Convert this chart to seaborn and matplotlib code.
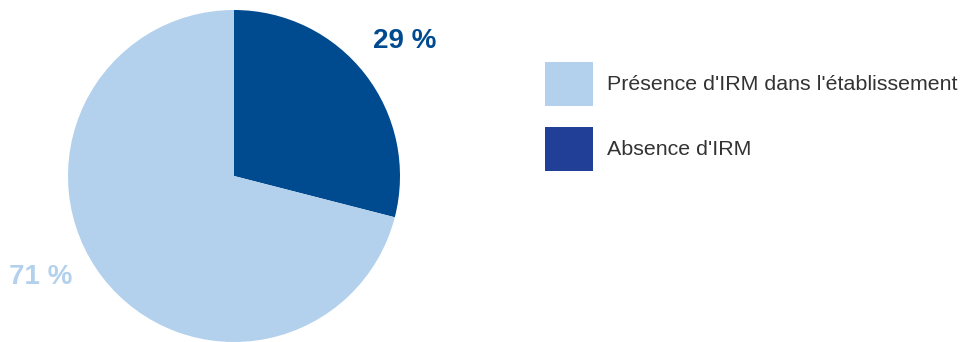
import matplotlib
matplotlib.use("Agg")
import matplotlib.pyplot as plt
from matplotlib.patches import Patch
import seaborn as sns

# Data
categories = ["Absence d'IRM", "Présence d'IRM dans l'établissement"]
shares = [29, 71]
pct_labels = ["29 %", "71 %"]

pie_colors = ["#004a90", "#b3d1ec"]
legend_colors = {"Présence d'IRM dans l'établissement": "#b3d1ec",
                 "Absence d'IRM": "#223f98"}

sns.set_theme(style="white")
plt.rcParams["font.family"] = ["Liberation Sans", "DejaVu Sans"]

W, H = 968, 342
fig = plt.figure(figsize=(W / 100, H / 100), dpi=100)
fig.patch.set_facecolor("white")

# Pie axes: centre (234, 176) px from top-left, radius 166 px
cx, cy, r = 234, 176, 166
ax = fig.add_axes([(cx - r) / W, (H - cy - r) / H, 2 * r / W, 2 * r / H])
ax.pie(shares, colors=pie_colors, startangle=90, counterclock=False,
       radius=1.0, wedgeprops=dict(linewidth=0))
ax.set_xlim(-1, 1)
ax.set_ylim(-1, 1)
ax.set_aspect("equal")
ax.axis("off")

# Percentage labels outside the pie
label_pos = [(405, 41), (41, 277)]
label_colors = ["#004a90", "#b3d1ec"]
for txt, (px, py), col in zip(pct_labels, label_pos, label_colors):
    ax.text((px - cx) / r, (cy - py) / r, txt, ha="center", va="center",
            fontsize=20, fontweight="bold", color=col, clip_on=False)

# Legend
fs = 15.4
px_per_em = fs * 100 / 72
order = ["Présence d'IRM dans l'établissement", "Absence d'IRM"]
handles = [Patch(facecolor=legend_colors[c], edgecolor="none", label=c) for c in order]
fig.legend(handles=handles, loc="upper left",
           bbox_to_anchor=(545 / W, 1 - 62 / H), bbox_transform=fig.transFigure,
           frameon=False, fontsize=fs, borderpad=0, borderaxespad=0,
           handlelength=48 / px_per_em, handleheight=2.56 * 16 / fs * 44 / 42,
           handletextpad=14 / px_per_em, labelspacing=21 / px_per_em,
           labelcolor="#333333")

fig.savefig("out.png", dpi=100, facecolor="white")
